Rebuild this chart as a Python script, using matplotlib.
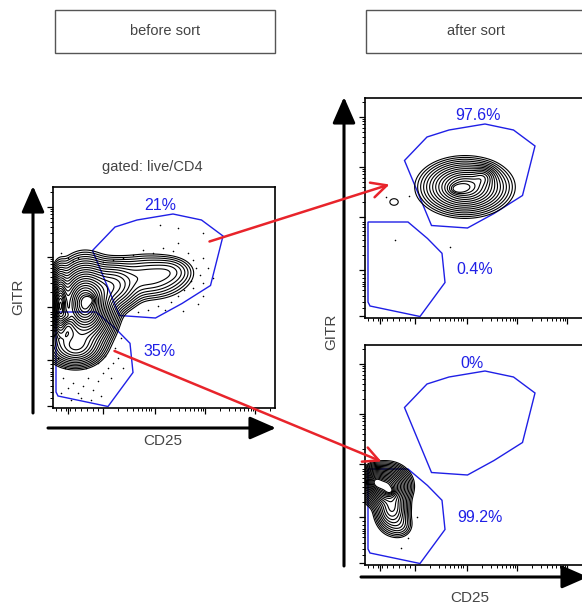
import numpy as np
import matplotlib
matplotlib.use("Agg")
import matplotlib.pyplot as plt
from matplotlib.patches import Polygon, Rectangle, ConnectionPatch, FancyArrowPatch

plt.rcParams['font.family'] = ['Liberation Sans', 'DejaVu Sans']

W, H = 582, 608
TEXT_GREY = '#444444'
GATE_BLUE = '#1f1fe6'
RED = '#e8242b'

# ---------------- data (panel units) ----------------
panel_titles = ['before sort', 'after sort']
gate_upper = [(39.5, 157.5), (62, 181), (84, 188), (120, 194), (148.5, 188),
              (170, 172), (157.5, 122.5), (129, 104.5), (102.5, 90), (66.5, 92.5)]
gate_lower = [(3, 96), (43, 96), (62.5, 79.5), (77, 64.7), (80, 35.5),
              (55, 1.5), (5, 12), (3, 16)]

# left panel population (gaussian components: cx, cy, sx, sy, weight)
left_cx = [32, 7, 60, 95, 22, 118, 37, 14]
left_cy = [104, 102, 122, 131, 62, 137, 108, 92]
left_sx = [12, 4, 12, 19, 12, 11, 4, 3]
left_sy = [17, 15, 11, 10.5, 9, 7, 3, 4]
left_w = [1.0, 0.8, 0.18, 0.07, 0.22, 0.025, 0.15, 0.2]
left_pct = ['21%', '35%']

# after sort, upper (GITR+ CD25+)
tr_cx = [100, 118, 92, 29]
tr_cy = [131, 141, 129, 116]
tr_sx = [16, 6, 5, 7]
tr_sy = [10, 5, 3, 5.5]
tr_w = [1.0, 0.3, 0.3, 0.0085]
tr_pct = ['97.6%', '0.4%']

# after sort, lower (GITR- CD25-)
br_cx = [21, 27, 10, 35, 25]
br_cy = [79, 57, 84, 40, 74]
br_sx = [9, 7, 5, 6, 3]
br_sy = [8, 10, 6, 6, 2.5]
br_w = [1.0, 0.3, 0.6, 0.04, 0.25]
br_pct = ['0%', '99.2%']

left_dots_x = [110, 120, 135, 140, 143, 147, 140, 150, 131, 125, 118, 105, 95, 150, 145, 130, 100, 90, 80,
               70, 60, 50, 155, 160, 138, 112, 85, 150, 125, 107, 150, 125,
               10, 15, 20, 25, 30, 35, 40, 45, 50, 55, 60, 65, 48, 38, 28, 18, 8, 12, 58, 62, 68, 45,
               52, 70, 33, 5, 6, 4, 5, 8, 15, 20, 25]
left_dots_y = [160, 157, 155, 148, 140, 133, 120, 125, 118, 112, 106, 102, 98, 112, 104, 97, 155, 158, 153,
               150, 148, 146, 140, 130, 127, 98, 96, 150, 165, 183, 175, 180,
               30, 20, 25, 15, 22, 30, 18, 27, 35, 40, 45, 50, 12, 8, 10, 8, 15, 40, 30, 60, 70, 45,
               52, 40, 40, 50, 70, 120, 140, 155, 150, 147, 150]
tr_dots_x = [20.7, 44.3, 30, 85]
tr_dots_y = [120.7, 122, 78, 71.3]
br_dots_x = [52.3, 43.3, 36]
br_dots_y = [47.7, 26.7, 16.7]

# tick positions (panel units, biexponential-like scale)
x_major = [15, 50, 102, 152, 202]
y_major = [2, 48, 101, 151, 201]
decade = 50.5


def minor_ticks(majors):
    out = []
    for d in majors[1:]:
        for k in range(2, 10):
            v = d + decade * np.log10(k)
            if v < 220:
                out.append(v)
    return out


x_minor = [3, 8, 13, 17, 22, 28, 34, 40, 45] + minor_ticks(x_major)
y_minor = [10, 16, 22, 28, 32, 34, 36, 40, 44] + minor_ticks(y_major)

# ---------------- figure ----------------
fig = plt.figure(figsize=(W / 100, H / 100), dpi=100)


def fpx(x, y, w, h):
    return [x / W, (H - y - h) / H, w / W, h / H]


def density(X, Y, cx, cy, sx, sy, w):
    Z = np.zeros_like(X)
    for a, b, c, d, e in zip(cx, cy, sx, sy, w):
        Z += e * np.exp(-0.5 * (((X - a) / c) ** 2 + ((Y - b) / d) ** 2))
    return Z


def panel(rect, comps, pct, dots, pct_pos, nlev, r0):
    ax = fig.add_axes(fpx(*rect))
    xw, yh = rect[2], rect[3]
    ax.set_xlim(0, xw)
    ax.set_ylim(0, yh)
    xs = np.linspace(-10, xw, 450)
    ys = np.linspace(-10, yh, 450)
    X, Y = np.meshgrid(xs, ys)
    Z = density(X, Y, *comps)
    zmax = Z.max()
    r = np.linspace(r0, 3.2, nlev)
    levels = np.sort(zmax * np.exp(-0.5 * r ** 2))
    ax.contour(X, Y, Z, levels=levels, colors='black', linewidths=0.8)
    ax.scatter(dots[0], dots[1], s=1.3, c='black', linewidths=0)
    ax.add_patch(Polygon(gate_upper, closed=True, fill=False, ec=GATE_BLUE, lw=1.0))
    ax.add_patch(Polygon(gate_lower, closed=True, fill=False, ec=GATE_BLUE, lw=1.0))
    for t, (px, py) in zip(pct, pct_pos):
        ax.text(px, py, t, color=GATE_BLUE, fontsize=11.5, ha='center', va='center')
    for s in ax.spines.values():
        s.set_linewidth(1.2)
    ax.set_xticks(x_major)
    ax.set_xticks(x_minor, minor=True)
    ax.set_yticks(y_major)
    ax.set_yticks(y_minor, minor=True)
    ax.tick_params(which='major', direction='out', length=4, width=0.9,
                   labelbottom=False, labelleft=False)
    ax.tick_params(which='minor', direction='out', length=2, width=0.7)
    return ax


axL = panel((53, 187, 222, 221), (left_cx, left_cy, left_sx, left_sy, left_w), left_pct,
            (left_dots_x, left_dots_y), [(107, 203), (107, 56)], 22, 0.5)
axTR = panel((365, 98, 222, 220), (tr_cx, tr_cy, tr_sx, tr_sy, tr_w), tr_pct,
             (tr_dots_x, tr_dots_y), [(113, 202), (110, 48)], 15, 0.65)
axBR = panel((365, 345, 222, 220), (br_cx, br_cy, br_sx, br_sy, br_w), br_pct,
             (br_dots_x, br_dots_y), [(107, 202), (115, 48)], 18, 0.55)

# title boxes
fig.patches.append(Rectangle((55 / W, (H - 53) / H), 220 / W, 43 / H, transform=fig.transFigure,
                             fill=False, ec='#555555', lw=1.0))
fig.patches.append(Rectangle((366 / W, (H - 53) / H), 222 / W, 43 / H, transform=fig.transFigure,
                             fill=False, ec='#555555', lw=1.0))
fig.text(165 / W, (H - 31) / H, panel_titles[0], ha='center', va='center', fontsize=10.5, color=TEXT_GREY)
fig.text(476 / W, (H - 31) / H, panel_titles[1], ha='center', va='center', fontsize=10.5, color=TEXT_GREY)
fig.text(152 / W, (H - 167) / H, 'gated: live/CD4', ha='center', va='center', fontsize=10.5, color=TEXT_GREY)

# axis labels
fig.text(18 / W, (H - 297) / H, 'GITR', rotation=90, ha='center', va='center', fontsize=11, color=TEXT_GREY)
fig.text(163 / W, (H - 441) / H, 'CD25', ha='center', va='center', fontsize=11, color=TEXT_GREY)
fig.text(331 / W, (H - 332) / H, 'GITR', rotation=90, ha='center', va='center', fontsize=11, color=TEXT_GREY)
fig.text(470 / W, (H - 598) / H, 'CD25', ha='center', va='center', fontsize=11, color=TEXT_GREY)

# black axis arrows
arrow_kw = dict(arrowstyle='-|>,head_length=1.6,head_width=0.7', color='black', lw=2.2,
                mutation_scale=10, shrinkA=0, shrinkB=0)
for (x0, y0), (x1, y1) in [((33, 413), (33, 186)), ((48, 428), (276, 428)),
                           ((344, 566), (344, 97)), ((361, 577), (588, 577))]:
    fig.add_artist(FancyArrowPatch((x0 / W, (H - y0) / H), (x1 / W, (H - y1) / H),
                                   transform=fig.transFigure, **arrow_kw))

# red sorting arrows
for (xa, ya, axa), (xb, yb, axb) in [((156.5, 166.5, axL), (24.5, 133.5, axTR)),
                                     ((61.5, 57, axL), (16.5, 103.5, axBR))]:
    cp = ConnectionPatch((xa, ya), (xb, yb), coordsA=axa.transData, coordsB=axb.transData,
                         arrowstyle='->,head_length=1.0,head_width=0.5', mutation_scale=11,
                         color=RED, lw=1.8, shrinkA=0, shrinkB=0)
    fig.add_artist(cp)

fig.savefig('out.png', dpi=100)
